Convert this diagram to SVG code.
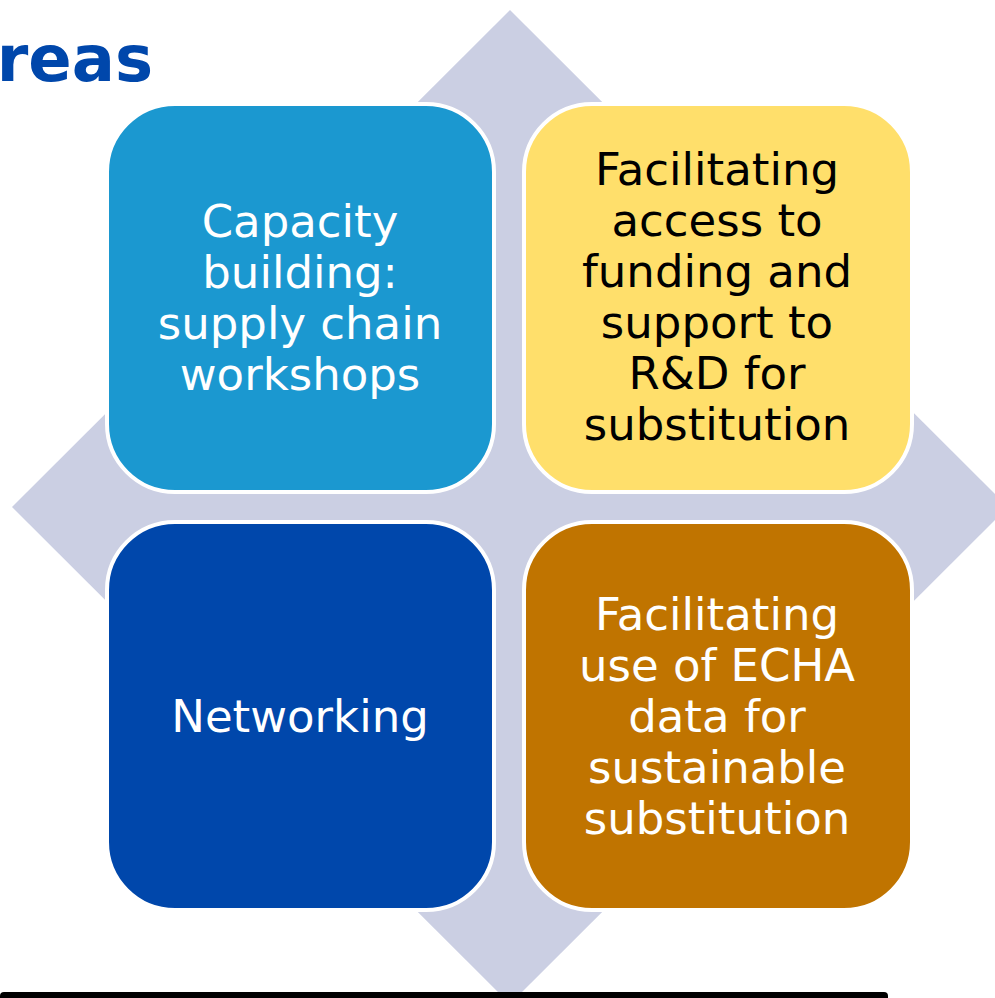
<svg xmlns="http://www.w3.org/2000/svg" width="995" height="998" viewBox="0 0 995 998">
<style>
.box{stroke:#ffffff;stroke-width:4}
.t{font-family:"DejaVu Sans",Verdana,sans-serif;font-size:45px;text-anchor:middle}
.w{fill:#ffffff}
.k{fill:#000000}
</style>
<rect width="995" height="998" fill="#ffffff"/>
<text x="153" y="81" font-family="DejaVu Sans,Verdana,sans-serif" font-weight="bold" font-size="64" fill="#0047AB" text-anchor="end">reas</text>
<polygon id="diamond" points="510,10 1008,507 510,1004 12,507" fill="#CBCFE3"/>
<rect x="0" y="992" width="888" height="10" rx="4" fill="#000000"/>
<g id="node-capacity">
<rect class="box" x="107" y="104" width="387" height="388" rx="68" fill="#1B98D0"/>
<text class="t w" x="300" y="237">Capacity</text>
<text class="t w" x="300" y="288">building:</text>
<text class="t w" x="300" y="339">supply chain</text>
<text class="t w" x="300" y="390">workshops</text>
</g>
<g id="node-funding">
<rect class="box" x="524" y="104" width="388" height="388" rx="68" fill="#FFDF6B"/>
<text class="t k" x="717" y="185">Facilitating</text>
<text class="t k" x="717" y="236">access to</text>
<text class="t k" x="717" y="287">funding and</text>
<text class="t k" x="717" y="338">support to</text>
<text class="t k" x="717" y="389">R&amp;D for</text>
<text class="t k" x="717" y="440">substitution</text>
</g>
<g id="node-networking">
<rect class="box" x="107" y="522" width="387" height="388" rx="68" fill="#0047AB"/>
<text class="t w" x="300" y="732">Networking</text>
</g>
<g id="node-echa">
<rect class="box" x="524" y="522" width="388" height="388" rx="68" fill="#C07400"/>
<text class="t w" x="717" y="630">Facilitating</text>
<text class="t w" x="717" y="681">use of ECHA</text>
<text class="t w" x="717" y="732">data for</text>
<text class="t w" x="717" y="783">sustainable</text>
<text class="t w" x="717" y="834">substitution</text>
</g>
<g id="connectors"></g>
</svg>
